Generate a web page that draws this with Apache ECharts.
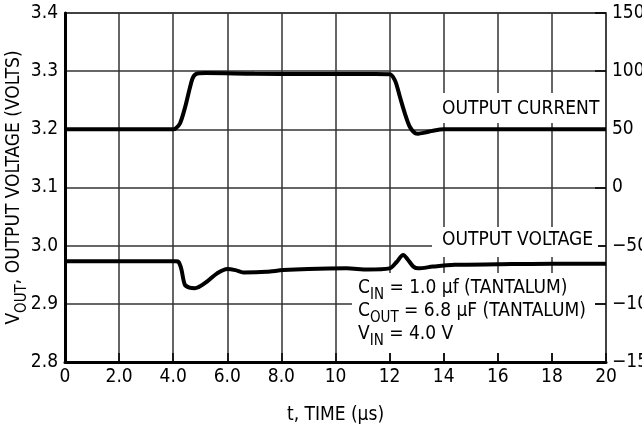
<!DOCTYPE html>
<html>
<head>
<meta charset="utf-8">
<script src="https://cdn.jsdelivr.net/npm/echarts@6/dist/echarts.min.js"></script>
<style>
  html, body { margin: 0; padding: 0; background: #fff; }
  #chart { width: 642px; height: 432px; }
</style>
</head>
<body>
<div id="chart"></div>
<script>
// time axis (us)
const timeTicks = ['0', '2.0', '4.0', '6.0', '8.0', '10', '12', '14', '16', '18', '20'];

// output current, right axis
const currentTime = [0, 4.0, 4.1, 4.25, 4.44, 4.62, 4.74, 4.9, 5.2, 7, 9, 11, 12.0, 12.2, 12.38, 12.56, 12.75, 12.94, 13.06, 13.3, 13.6, 14, 20];
const currentValue = [50, 50, 51, 55, 69, 86, 95, 98, 98.4, 97.8, 97.6, 97.5, 97.4, 92, 78, 64, 52, 46.8, 46.3, 47.2, 48.8, 50, 50];

// output voltage, left axis
const voltageTime = [0, 4.1, 4.2, 4.3, 4.43, 4.6, 4.8, 5.24, 5.61, 6.0, 6.3, 6.6, 7.45, 8.07, 9, 10.4, 11.2, 12.0, 12.26, 12.5, 12.69, 12.88, 13.06, 13.6, 14.4, 16, 18, 20];
const voltageValue = [2.973, 2.973, 2.972, 2.960, 2.933, 2.928, 2.927, 2.938, 2.952, 2.960, 2.958, 2.954, 2.955, 2.958, 2.960, 2.961, 2.959, 2.961, 2.972, 2.984, 2.975, 2.964, 2.961, 2.964, 2.967, 2.968, 2.969, 2.969];

const FONT = "'DejaVu Sans Condensed', 'DejaVu Sans', sans-serif";

function richFor(size, subSize, drop) {
  return {
    m: { fontFamily: FONT, fontSize: size, lineHeight: size, verticalAlign: 'top', color: '#000' },
    s: { fontFamily: FONT, fontSize: subSize, lineHeight: subSize + 1, verticalAlign: 'top', padding: [drop, 0, 0, 0], color: '#000' }
  };
}
const textRich = richFor(19, 15, 9);
const nameRich = richFor(19, 15, 10);

function zip(xs, ys) {
  return xs.map((x, i) => [x, ys[i]]);
}

function label(text, x, y) {
  return {
    type: 'text', x: x, y: y, z: 100,
    style: { text: text, rich: textRich, verticalAlign: 'top', align: 'left' }
  };
}

const tickFont = { fontFamily: FONT, fontSize: 19, color: '#000' };

const chart = echarts.init(document.getElementById('chart'));
chart.setOption({
  animation: false,
  grid: {
    left: 65, right: 36, top: 13, bottom: 70,
    outerBoundsMode: 'none', containLabel: false,
    show: true, borderColor: '#444', borderWidth: 1.5
  },
  xAxis: {
    type: 'value', min: 0, max: 20, interval: 2,
    name: 't, TIME (μs)', nameLocation: 'middle', nameGap: 44, nameMoveOverlap: false,
    nameTextStyle: tickFont,
    axisLine: { onZero: false, lineStyle: { color: '#000', width: 3 } },
    axisTick: { inside: true, length: 9, lineStyle: { color: '#000', width: 1.5 } },
    axisLabel: Object.assign({ margin: 6, formatter: v => timeTicks[Math.round(v / 2)] }, tickFont),
    splitLine: { show: true, lineStyle: { color: '#333', width: 1.5 } }
  },
  yAxis: [{
    type: 'value', min: 2.8, max: 3.4, interval: 0.1, position: 'left',
    name: '{m|V}{s|OUT}{m|, OUTPUT VOLTAGE (VOLTS)}', nameLocation: 'middle', nameGap: 41,
    nameMoveOverlap: false,
    nameTextStyle: { rich: nameRich },
    axisLine: { show: true, lineStyle: { color: '#000', width: 3 } },
    axisTick: { show: false },
    axisLabel: Object.assign({ margin: 7, formatter: v => v.toFixed(1) }, tickFont),
    splitLine: { show: true, lineStyle: { color: '#333', width: 1.5 } }
  }, {
    type: 'value', min: -150, max: 150, interval: 50, position: 'right',
    axisLine: { show: true, lineStyle: { color: '#444', width: 1.5 } },
    axisTick: { show: true, inside: true, length: 11, lineStyle: { color: '#000', width: 1.5 } },
    axisLabel: Object.assign({
      margin: 6, formatter: v => (v < 0 ? '\u2212' + Math.abs(v) : String(v))
    }, tickFont),
    splitLine: { show: false }
  }],
  series: [{
    name: 'Output Current', type: 'line', yAxisIndex: 1,
    data: zip(currentTime, currentValue),
    showSymbol: false, smooth: 0.3,
    lineStyle: { color: '#000', width: 4 }
  }, {
    name: 'Output Voltage', type: 'line', yAxisIndex: 0,
    data: zip(voltageTime, voltageValue),
    showSymbol: false, smooth: 0.3,
    lineStyle: { color: '#000', width: 4 }
  }],
  graphic: [
    { type: 'rect', z: 99, shape: { x: 438, y: 93, width: 165, height: 30 }, style: { fill: '#fff' } },
    label('{m|OUTPUT CURRENT}', 442, 100),
    { type: 'rect', z: 99, shape: { x: 432, y: 227, width: 166, height: 30 }, style: { fill: '#fff' } },
    label('{m|OUTPUT VOLTAGE}', 442, 231),
    { type: 'rect', z: 99, shape: { x: 352, y: 273, width: 243, height: 80 }, style: { fill: '#fff' } },
    label('{m|C}{s|IN}{m| = 1.0 μf (TANTALUM)}', 358, 279),
    label('{m|C}{s|OUT}{m| = 6.8 μF (TANTALUM)}', 358, 302),
    label('{m|V}{s|IN}{m| = 4.0 V}', 358, 325)
  ]
});
</script>
</body>
</html>
